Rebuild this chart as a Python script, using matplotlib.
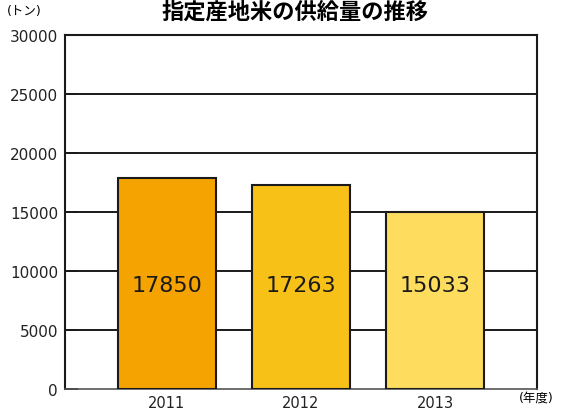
import matplotlib
matplotlib.use("Agg")
import matplotlib.pyplot as plt
import numpy as np

plt.rcParams['font.family'] = ['DejaVu Sans', 'Noto Sans CJK JP']

# data
years = ["2011", "2012", "2013"]
supply = [17850, 17263, 15033]
bar_colors = ["#F5A300", "#F8C118", "#FDDC5E"]
yticks = [0, 5000, 10000, 15000, 20000, 25000, 30000]

fig = plt.figure(figsize=(5.71, 4.14), dpi=100)
ax = fig.add_axes([65 / 571, 1 - 390 / 414, 472 / 571, 354 / 414])

x = np.arange(len(years))
ax.bar(x, supply, width=0.73, color=bar_colors, edgecolor="#1a1a1a",
       linewidth=1.5, zorder=3)

# value labels sit at the same height in each bar
for xi, v in zip(x, supply):
    ax.text(xi, 8800, str(v), ha='center', va='center', fontsize=16,
            color="#1a1a1a", zorder=4)

for yv in yticks[1:-1]:
    ax.axhline(yv, color="#1a1a1a", linewidth=1.4, zorder=1)

ax.set_xlim(-0.76, 2.76)
ax.set_ylim(0, 30000)
ax.set_yticks(yticks)
ax.set_yticklabels([str(t) for t in yticks], fontsize=11, color="#222222")
ax.set_xticks(x)
ax.set_xticklabels(years, fontsize=10.5, color="#222222")
ax.tick_params(axis='y', direction='in', length=9, width=1.3, color="#1a1a1a", pad=5)
ax.tick_params(axis='x', length=0, pad=4)

for side in ['left', 'right', 'top']:
    ax.spines[side].set_linewidth(1.5)
    ax.spines[side].set_color("#1a1a1a")
ax.spines['bottom'].set_linewidth(1.2)
ax.spines['bottom'].set_color("#555555")

fig.text(24 / 571, 1 - 12 / 414, "(トン)", ha='center', va='center', fontsize=9)
fig.text(536 / 571, 1 - 398 / 414, "(年度)", ha='center', va='center', fontsize=9)
fig.text(295 / 571, 1 - 1 / 414, "指定産地米の供給量の推移", ha='center',
         va='top', fontsize=16, fontweight='bold')

fig.savefig("out.png", dpi=100)
